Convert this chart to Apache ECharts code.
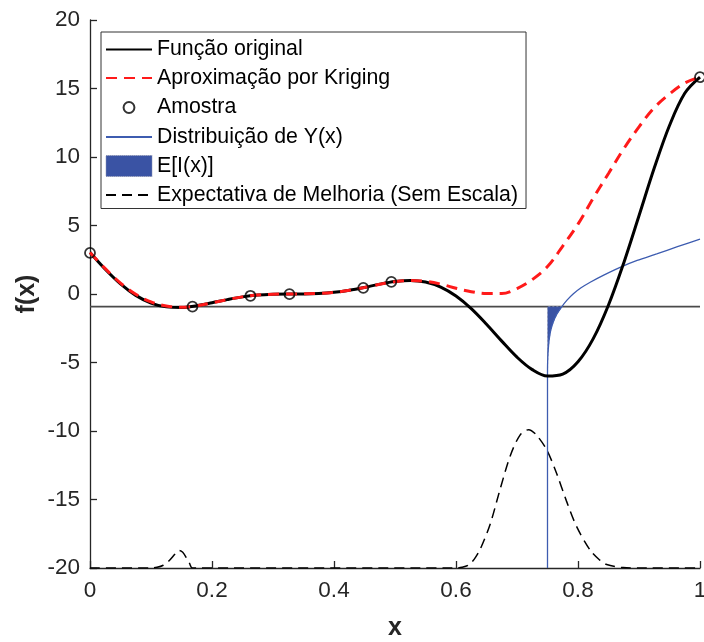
<!DOCTYPE html>
<html>
<head>
<meta charset="utf-8">
<script src="https://cdn.jsdelivr.net/npm/echarts@6/dist/echarts.min.js"></script>
<style>
  html, body { margin: 0; padding: 0; background: #fff; }
  #chart { width: 704px; height: 642px; }
</style>
</head>
<body>
<div id="chart"></div>
<script>
// Common x grid for the two curves
var xGrid = [0, 0.025, 0.05, 0.075, 0.1, 0.125, 0.15, 0.175, 0.2, 0.225,
  0.25, 0.275, 0.3, 0.325, 0.35, 0.375, 0.4, 0.425, 0.45, 0.475,
  0.5, 0.525, 0.55, 0.575, 0.6, 0.625, 0.65, 0.675, 0.7, 0.725,
  0.75, 0.775, 0.8, 0.825, 0.85, 0.875, 0.9, 0.925, 0.95, 0.975, 1];

// Função original
var fOriginal = [3.03, 1.81, 0.74, -0.10, -0.66, -0.94, -0.98, -0.85, -0.64, -0.41,
  -0.21, -0.08, -0.02, 0.00, 0.00, 0.03, 0.12, 0.27, 0.48, 0.72,
  0.91, 0.99, 0.87, 0.50, -0.15, -1.07, -2.21, -3.44, -4.61, -5.52,
  -5.99, -5.85, -4.95, -3.26, -0.80, 2.27, 5.71, 9.19, 12.30, 14.65, 15.83];

// Aproximação por Kriging
var fKriging = [3.03, 1.85, 0.80, -0.02, -0.58, -0.88, -0.97, -0.86, -0.64, -0.41,
  -0.21, -0.08, -0.02, 0.00, 0.01, 0.04, 0.12, 0.27, 0.48, 0.71,
  0.90, 0.99, 0.93, 0.72, 0.42, 0.17, 0.03, 0.03, 0.40, 1.05,
  2.00, 3.50, 5.10, 7.00, 8.80, 10.60, 12.20, 13.60, 14.60, 15.40, 15.83];

// Amostra
var sampleX = [0, 0.168, 0.263, 0.327, 0.448, 0.494, 1];
var sampleY = [3.0, -0.92, -0.13, -0.01, 0.45, 0.89, 15.83];

// Distribuição de Y(x) at the candidate point
var distX = [0.75, 0.75, 0.7502, 0.751, 0.7525, 0.755, 0.759, 0.765, 0.773, 0.782,
  0.792, 0.805, 0.820, 0.843, 0.869, 0.897, 0.929, 0.963, 1.0];
var distY = [-20, -6, -5.0, -4.2, -3.4, -2.7, -2.1, -1.5, -0.95, -0.45,
  0.0, 0.45, 0.86, 1.4, 1.95, 2.45, 2.93, 3.45, 4.0];

// Expectativa de Melhoria (Sem Escala)
var eiX = [0, 0.10, 0.11, 0.12, 0.13, 0.14, 0.146, 0.152, 0.158, 0.163, 0.168,
  0.60, 0.61, 0.62, 0.63, 0.64, 0.656, 0.672, 0.689, 0.705, 0.719, 0.732,
  0.749, 0.765, 0.781, 0.798, 0.82, 0.835, 0.847, 0.874, 0.90, 1.0];
var eiY = [-20, -20, -19.95, -19.8, -19.45, -18.95, -18.72, -18.85, -19.25, -19.65, -20,
  -20, -19.95, -19.8, -19.35, -18.6, -16.8, -14.3, -11.8, -10.3, -9.9, -10.3,
  -11.4, -13.1, -15.1, -17.0, -18.7, -19.4, -19.75, -19.97, -20, -20];

// Axis ticks
var xTicks = [0, 0.2, 0.4, 0.6, 0.8, 1];
var yTicks = [-20, -15, -10, -5, 0, 5, 10, 15, 20];

var FONT = "'Liberation Sans', Arial, Helvetica, sans-serif";
var AX = '#262626';
var NO_SYMBOL = 'rgba(0,0,0,0)';

function pairs(xs, ys) { return xs.map(function (x, i) { return [x, ys[i]]; }); }

// best sample so far
var yMin = Math.min.apply(null, sampleY);

// improvement region: part of the distribution lying below yMin
var fillPts = [];
(function () {
  for (var i = 1; i < distY.length; i++) {
    if (distY[i] <= yMin) fillPts.push([distX[i], distY[i]]);
    else {
      var t = (yMin - distY[i - 1]) / (distY[i] - distY[i - 1]);
      fillPts.push([distX[i - 1] + t * (distX[i] - distX[i - 1]), yMin]);
      break;
    }
  }
  fillPts.push([distX[0], yMin]);
})();

var chart = echarts.init(document.getElementById('chart'), null, { renderer: 'canvas' });

chart.setOption({
  animation: false,
  backgroundColor: '#fff',
  textStyle: { fontFamily: FONT },
  grid: { left: 90, right: 4, top: 20, bottom: 74, containLabel: false, outerBoundsMode: 'none' },
  xAxis: {
    type: 'value',
    min: xTicks[0], max: xTicks[xTicks.length - 1], interval: 0.2,
    name: 'x', nameLocation: 'middle', nameGap: 48, nameMoveOverlap: false,
    nameTextStyle: { fontFamily: FONT, fontSize: 25, fontWeight: 'bold', color: AX },
    axisLine: { show: true, onZero: false, lineStyle: { color: AX, width: 1.3 } },
    axisTick: { show: true, inside: true, length: 7, lineStyle: { color: AX, width: 1.3 } },
    axisLabel: { fontFamily: FONT, fontSize: 22.5, color: AX, margin: 11, hideOverlap: false },
    splitLine: { show: false }
  },
  yAxis: {
    type: 'value',
    min: yTicks[0], max: yTicks[yTicks.length - 1], interval: 5,
    name: 'f(x)', nameLocation: 'middle', nameGap: 50, nameMoveOverlap: false,
    nameTextStyle: { fontFamily: FONT, fontSize: 25, fontWeight: 'bold', color: AX },
    axisLine: { show: true, onZero: false, lineStyle: { color: AX, width: 1.3 } },
    axisTick: { show: true, inside: true, length: 7, lineStyle: { color: AX, width: 1.3 } },
    axisLabel: { fontFamily: FONT, fontSize: 22.5, color: AX, margin: 10 },
    splitLine: { show: false }
  },
  legend: {
    orient: 'vertical',
    left: 101, top: 32,
    padding: [7, 8, 3, 4],
    itemWidth: 46, itemHeight: 21, itemGap: 7.5,
    backgroundColor: '#fff',
    borderColor: '#333', borderWidth: 1,
    selectedMode: false,
    textStyle: { fontFamily: FONT, fontSize: 21.3, color: '#000', lineHeight: 21 },
    data: [
      { name: 'Função original' },
      { name: 'Aproximação por Kriging' },
      { name: 'Amostra', icon: 'path://M0,0M24,24M18.2,12A6.2,6.2,0,1,1,5.8,12A6.2,6.2,0,1,1,18.2,12Z' },
      { name: 'Distribuição de Y(x)' },
      { name: 'E[I(x)]', icon: 'rect', itemStyle: { borderColor: '#8890b0', borderWidth: 1, borderType: 'dotted' } },
      { name: 'Expectativa de Melhoria (Sem Escala)' }
    ]
  },
  series: [
    {
      // current best value
      type: 'line', symbol: 'none', silent: true, z: 1,
      data: [[xTicks[0], yMin], [xTicks[xTicks.length - 1], yMin]],
      lineStyle: { color: '#4a4a4a', width: 1.8 }
    },
    {
      name: 'Expectativa de Melhoria (Sem Escala)',
      type: 'line', symbol: 'none', smooth: 0.3, z: 2,
      data: pairs(eiX, eiY),
      itemStyle: { color: NO_SYMBOL },
      lineStyle: { color: '#000', width: 1.5, type: [10, 6] }
    },
    {
      name: 'E[I(x)]',
      type: 'custom', coordinateSystem: 'cartesian2d', z: 3, silent: true,
      data: [[distX[0], yMin]],
      itemStyle: { color: '#3a53a4' },
      renderItem: function (params, api) {
        var pts = fillPts.map(function (p) { return api.coord(p); });
        return {
          type: 'polygon',
          shape: { points: pts },
          style: { fill: '#3a53a4', stroke: '#8890b0', lineWidth: 0.8, lineDash: [2, 2] }
        };
      }
    },
    {
      name: 'Distribuição de Y(x)',
      type: 'line', symbol: 'none', smooth: 0.2, z: 4,
      data: pairs(distX, distY),
      itemStyle: { color: NO_SYMBOL },
      lineStyle: { color: '#3d5cb0', width: 1.3 }
    },
    {
      name: 'Função original',
      type: 'line', symbol: 'none', smooth: 0.35, z: 5,
      data: pairs(xGrid, fOriginal),
      itemStyle: { color: NO_SYMBOL },
      lineStyle: { color: '#000', width: 3 }
    },
    {
      name: 'Aproximação por Kriging',
      type: 'line', symbol: 'none', smooth: 0.35, z: 6,
      data: pairs(xGrid, fKriging),
      itemStyle: { color: NO_SYMBOL },
      lineStyle: { color: '#ff1a1a', width: 3, type: [11, 7] }
    },
    {
      name: 'Amostra',
      type: 'scatter', symbol: 'circle', symbolSize: 10, z: 7,
      data: pairs(sampleX, sampleY),
      itemStyle: { color: NO_SYMBOL, borderColor: '#000', borderWidth: 1.8 }
    }
  ]
});
</script>
</body>
</html>
